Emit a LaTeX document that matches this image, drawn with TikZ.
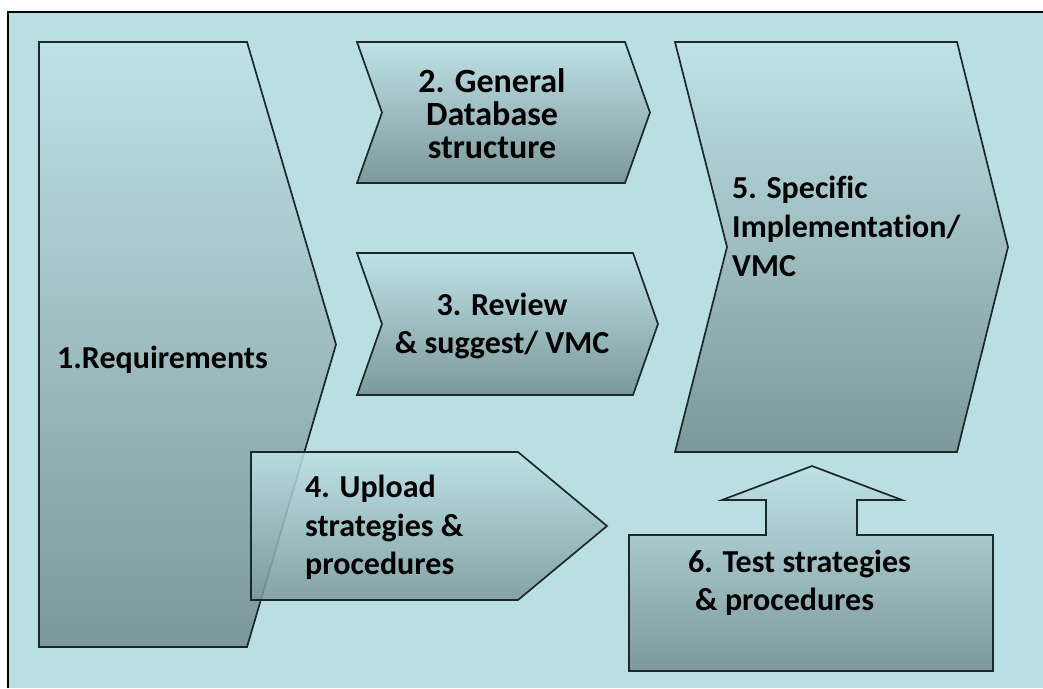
\documentclass[tikz,border=0pt]{standalone}
\usepackage{fontspec}
\setmainfont{Carlito}[Ligatures=NoCommon]
\definecolor{bgc}{RGB}{186,223,227}
\definecolor{topc}{RGB}{190,226,230}
\definecolor{botc}{RGB}{124,152,155}
\definecolor{edge}{RGB}{28,40,42}
\tikzset{
  stage/.style={draw=edge, line width=1.7pt, line join=miter, top color=topc, bottom color=botc},
  lbl/.style={inner sep=0pt, font=\fontsize{32}{38}\selectfont\bfseries, text=black},
  lblbig/.style={inner sep=0pt, font=\fontsize{34}{38}\selectfont\bfseries, text=black}
}
\begin{document}
\begin{tikzpicture}[x=1pt,y=-1pt]
\useasboundingbox (0,0) rectangle (1043,688);
\fill[white] (0,0) rectangle (1043,688);
\fill[bgc] (8,12) rectangle (1043,688);
\draw[black, line width=2.5pt] (8,688) -- (8,12) -- (1043,12);

% 1 Requirements
\path[stage] (39,42) -- (247,42) -- (336,344.5) -- (247,647) -- (39,647) -- cycle;
% 2 General database structure
\path[stage] (357,42) -- (625,42) -- (650,112.5) -- (625,183) -- (357,183) -- (382,112.5) -- cycle;
% 3 Review
\path[stage] (357,253) -- (633,253) -- (658,324) -- (633,395) -- (357,395) -- (382,324) -- cycle;
% 5 Specific implementation
\path[stage] (675,42) -- (957,42) -- (1008,247) -- (957,452) -- (675,452) -- (727,247) -- cycle;
% 6 Test strategies with up arrow
\path[stage] (629,535) -- (766,535) -- (766,500) -- (722,500) -- (812,466) -- (902,500) -- (857,500) -- (857,535) -- (993,535) -- (993,671) -- (629,671) -- cycle;
% 4 Upload
\path[stage, fill opacity=0.85] (251,452) -- (518,452) -- (607,526) -- (518,600) -- (251,600) -- cycle;

% labels
\node[lbl, anchor=base west] (t1) at (57,368) {1.Requirements};

\node[lblbig, anchor=base] (t2a) at (492,92) {2. General};
\node[lblbig, anchor=base] (t2b) at (492,125) {Database};
\node[lblbig, anchor=base] (t2c) at (492,158) {structure};

\node[lbl, anchor=base] (t3a) at (502,315) {3. Review};
\node[lbl, anchor=base] (t3b) at (502,353) {\& suggest/ VMC};

\node[lbl, anchor=base west] (t4a) at (305,497) {4. Upload};
\node[lbl, anchor=base west] (t4b) at (305,536) {strategies \&};
\node[lbl, anchor=base west] (t4c) at (305,574) {procedures};

\node[lbl, anchor=base west] (t5a) at (732,198) {5. Specific};
\node[lbl, anchor=base west] (t5b) at (732,237) {Implementation/};
\node[lbl, anchor=base west] (t5c) at (732,276) {VMC};

\node[lbl, anchor=base west] (t6a) at (688,572) {6. Test strategies};
\node[lbl, anchor=base west] (t6b) at (695,610) {\& procedures};
\end{tikzpicture}
\end{document}
